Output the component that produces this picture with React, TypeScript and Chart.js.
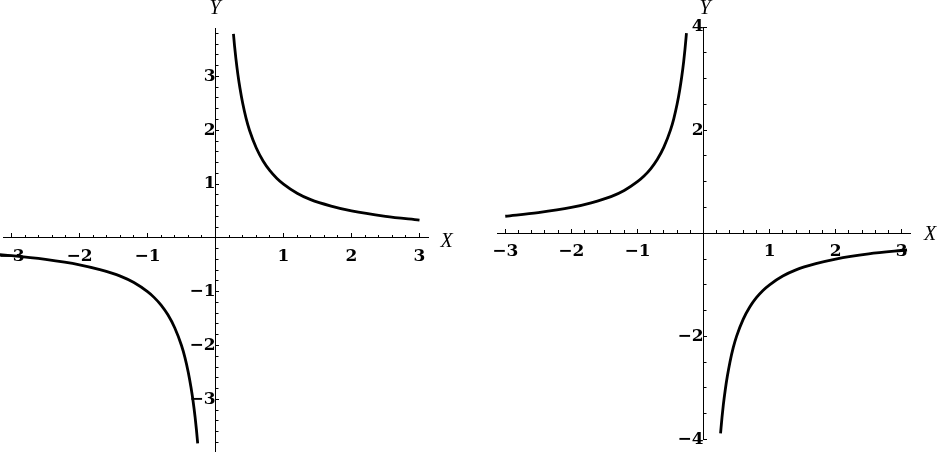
import React, { useEffect, useRef } from "react";
import { Chart, registerables } from "chart.js";

Chart.register(...registerables);

// ---- Data ----
// Left panel: y = 1/x
const leftPosX = [0.264, 0.28, 0.3, 0.33, 0.36, 0.4, 0.45, 0.5, 0.6, 0.7, 0.8, 0.9, 1, 1.2, 1.4, 1.7, 2, 2.5, 3];
const leftPosY = [3.79, 3.57, 3.33, 3.03, 2.78, 2.5, 2.22, 2.0, 1.67, 1.43, 1.25, 1.11, 1.0, 0.83, 0.71, 0.59, 0.5, 0.4, 0.33];
const leftNegX = [-3.2, -3, -2.5, -2, -1.7, -1.4, -1.2, -1, -0.9, -0.8, -0.7, -0.6, -0.5, -0.45, -0.4, -0.36, -0.33, -0.3, -0.28, -0.262];
const leftNegY = [-0.31, -0.33, -0.4, -0.5, -0.59, -0.71, -0.83, -1.0, -1.11, -1.25, -1.43, -1.67, -2.0, -2.22, -2.5, -2.78, -3.03, -3.33, -3.57, -3.82];

// Right panel: y = -1/x
const rightNegX = [-3, -2.5, -2, -1.7, -1.4, -1.2, -1, -0.9, -0.8, -0.7, -0.6, -0.5, -0.45, -0.4, -0.36, -0.33, -0.3, -0.28, -0.258];
const rightNegY = [0.33, 0.4, 0.5, 0.59, 0.71, 0.83, 1.0, 1.11, 1.25, 1.43, 1.67, 2.0, 2.22, 2.5, 2.78, 3.03, 3.33, 3.57, 3.88];
const rightPosX = [0.258, 0.28, 0.3, 0.33, 0.36, 0.4, 0.45, 0.5, 0.6, 0.7, 0.8, 0.9, 1, 1.2, 1.4, 1.7, 2, 2.5, 3.08];
const rightPosY = [-3.88, -3.57, -3.33, -3.03, -2.78, -2.5, -2.22, -2.0, -1.67, -1.43, -1.25, -1.11, -1.0, -0.83, -0.71, -0.59, -0.5, -0.4, -0.325];

// Axis ranges / tick steps
const leftXRange = [-3.125, 3.125];
const leftYRange = [-3.96, 3.9];
const leftXMajor = 1, leftXMinor = 0.2, leftYMajor = 1, leftYMinor = 0.2;

const rightXRange = [-3.125, 3.125];
const rightYRange = [-4, 4];
const rightXMajor = 1, rightXMinor = 0.2, rightYMajor = 2, rightYMinor = 0.5;

const axisTitles = ["X", "Y"];

const zip = (xs: number[], ys: number[]) => xs.map((x, i) => ({ x, y: ys[i] }));

const fmt = (v: number) => {
  if (Math.abs(v) < 1e-9) return "";
  const r = Math.round(v * 100) / 100;
  return r < 0 ? "\u2212" + String(-r) : String(r);
};

const tickFont = { family: '"DejaVu Serif"', size: 17, weight: "bold" as const };

const axisLabelPlugin = {
  id: "axisLabels",
  afterDraw(chart: any, _args: any, opts: any) {
    const { ctx } = chart;
    const x = chart.scales.x;
    const y = chart.scales.y;
    ctx.save();
    ctx.font = 'italic 20px "Liberation Serif"';
    ctx.fillStyle = "#000";
    ctx.textAlign = "center";
    ctx.textBaseline = "alphabetic";
    ctx.fillText(axisTitles[0], x.right + opts.xdx, y.getPixelForValue(0) + opts.xdy);
    ctx.fillText(axisTitles[1], x.getPixelForValue(0) + opts.ydx, opts.yy);
    ctx.restore();
  },
};

function makeScales(xr: number[], yr: number[], xMaj: number, xMin: number, yMaj: number, yMin: number) {
  const zeroW = (s: any) => { s.width = 0; s.paddingTop = 0; s.paddingBottom = 0; s.paddingLeft = 0; s.paddingRight = 0; };
  const zeroH = (s: any) => { s.height = 0; s.paddingTop = 0; s.paddingBottom = 0; s.paddingLeft = 0; s.paddingRight = 0; };
  const base = (r: number[]) => ({ type: "linear" as const, min: r[0], max: r[1] });
  return {
    x: {
      ...base(xr),
      position: { y: 0 },
      afterFit: zeroH,
      border: { display: true, color: "#000", width: 1 },
      grid: { drawOnChartArea: false, drawTicks: true, tickLength: -5, color: "#000", lineWidth: 1 },
      ticks: { stepSize: xMaj, includeBounds: false, autoSkip: false, maxRotation: 0, padding: 13, color: "#000", font: tickFont, callback: (v: any) => fmt(Number(v)) },
    },
    xMinor: {
      ...base(xr),
      axis: "x",
      position: { y: 0 },
      afterFit: zeroH,
      border: { display: false },
      grid: { drawOnChartArea: false, drawTicks: true, tickLength: -3, color: "#000", lineWidth: 1 },
      ticks: { stepSize: xMin, includeBounds: false, autoSkip: false, maxRotation: 0, callback: () => "" },
    },
    y: {
      ...base(yr),
      position: { x: 0 },
      afterFit: zeroW,
      border: { display: true, color: "#000", width: 1 },
      grid: { drawOnChartArea: false, drawTicks: true, tickLength: -4, color: "#000", lineWidth: 1 },
      ticks: { stepSize: yMaj, includeBounds: false, autoSkip: false, padding: 8, color: "#000", font: tickFont, callback: (v: any) => fmt(Number(v)) },
    },
    yMinor: {
      ...base(yr),
      axis: "y",
      position: { x: 0 },
      afterFit: zeroW,
      border: { display: false },
      grid: { drawOnChartArea: false, drawTicks: true, tickLength: -2.5, color: "#000", lineWidth: 1 },
      ticks: { stepSize: yMin, includeBounds: false, autoSkip: false, callback: () => "" },
    },
  };
}

function lineDs(data: { x: number; y: number }[]) {
  return {
    data,
    borderColor: "#000",
    borderWidth: 2.8,
    pointRadius: 0,
    fill: false,
    cubicInterpolationMode: "monotone" as const,
    clip: false as const,
    xAxisID: "x",
    yAxisID: "y",
  };
}

function Panel(props: { width: number; height: number; config: any }) {
  const ref = useRef<HTMLCanvasElement | null>(null);
  useEffect(() => {
    if (!ref.current) return;
    const chart = new Chart(ref.current, props.config);
    return () => chart.destroy();
  }, []);
  return <canvas ref={ref} width={props.width} height={props.height} style={{ display: "block" }} />;
}

export default function App() {
  const leftConfig = {
    type: "line",
    data: { datasets: [lineDs(zip(leftNegX, leftNegY)), lineDs(zip(leftPosX, leftPosY))] },
    options: {
      responsive: false,
      animation: false,
      events: [],
      layout: { padding: { left: 3, right: 42, top: 28, bottom: 1 } },
      plugins: { legend: { display: false }, tooltip: { enabled: false }, axisLabels: { xdx: 18.5, xdy: 9, ydx: -0.5, yy: 13.5 } },
      scales: makeScales(leftXRange, leftYRange, leftXMajor, leftXMinor, leftYMajor, leftYMinor),
    },
    plugins: [axisLabelPlugin],
  };
  const rightConfig = {
    type: "line",
    data: { datasets: [lineDs(zip(rightNegX, rightNegY)), lineDs(zip(rightPosX, rightPosY))] },
    options: {
      responsive: false,
      animation: false,
      events: [],
      layout: { padding: { left: 27, right: 29, top: 27, bottom: 12.5 } },
      plugins: { legend: { display: false }, tooltip: { enabled: false }, axisLabels: { xdx: 20, xdy: 7, ydx: 1.5, yy: 14 } },
      scales: makeScales(rightXRange, rightYRange, rightXMajor, rightXMinor, rightYMajor, rightYMinor),
    },
    plugins: [axisLabelPlugin],
  };
  return (
    <div style={{ position: "absolute", left: 0, top: 0, width: 939, height: 452, display: "flex", background: "#fff" }}>
      <Panel width={470} height={452} config={leftConfig} />
      <Panel width={469} height={452} config={rightConfig} />
    </div>
  );
}
